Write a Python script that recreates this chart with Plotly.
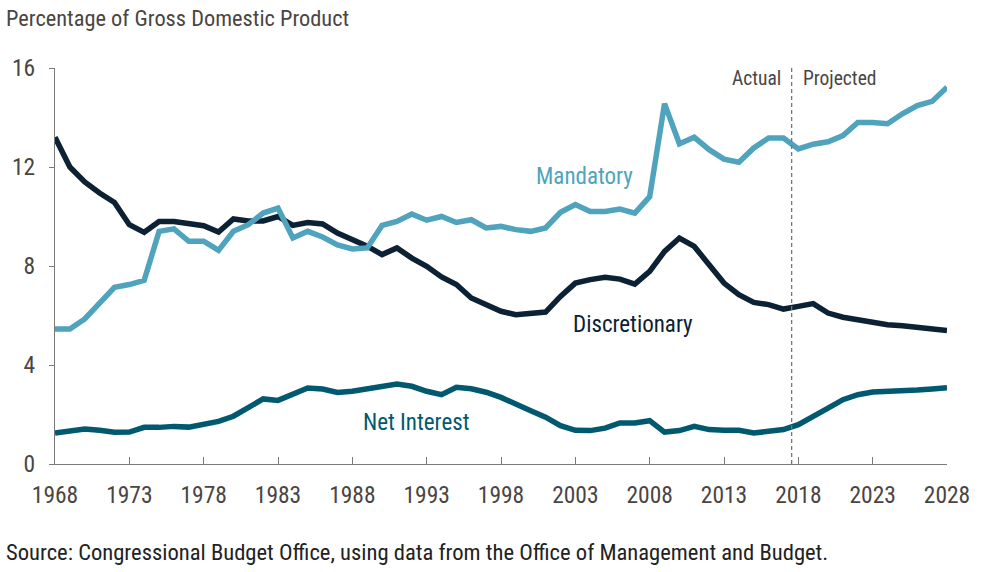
import plotly.graph_objects as go

years = list(range(1968, 2029))

mandatory = [5.45, 5.45, 5.86, 6.5, 7.14, 7.25, 7.42, 9.4, 9.5, 9.0,
             9.0, 8.63, 9.4, 9.67, 10.14, 10.34, 9.13, 9.4, 9.17, 8.85,
             8.69, 8.73, 9.64, 9.8, 10.1, 9.85, 10.0, 9.76, 9.87, 9.54,
             9.6, 9.47, 9.4, 9.54, 10.17, 10.48, 10.2, 10.2, 10.3, 10.14,
             10.8, 14.56, 12.94, 13.2, 12.7, 12.32, 12.19, 12.77, 13.17, 13.17,
             12.73, 12.92, 13.02, 13.27, 13.8, 13.8, 13.75, 14.15, 14.48, 14.65,
             15.22]

discretionary = [13.2, 12.0, 11.4, 10.95, 10.57, 9.67, 9.36, 9.8, 9.8, 9.74,
                 9.63, 9.37, 9.9, 9.82, 9.82, 10.0, 9.64, 9.76, 9.7, 9.33,
                 9.06, 8.8, 8.46, 8.73, 8.32, 7.99, 7.56, 7.25, 6.71, 6.44,
                 6.17, 6.03, 6.06, 6.14, 6.77, 7.31, 7.45, 7.54, 7.47, 7.27,
                 7.78, 8.59, 9.13, 8.79, 8.05, 7.31, 6.84, 6.53, 6.44, 6.26,
                 6.37, 6.48, 6.10, 5.93, 5.83, 5.72, 5.63, 5.59, 5.52, 5.45,
                 5.39]

net_interest = [1.25, 1.32, 1.41, 1.36, 1.28, 1.29, 1.48, 1.48, 1.52, 1.49,
                1.59, 1.72, 1.93, 2.26, 2.63, 2.57, 2.83, 3.07, 3.03, 2.89,
                2.94, 3.03, 3.14, 3.23, 3.14, 2.94, 2.8, 3.1, 3.04, 2.9,
                2.69, 2.4, 2.15, 1.89, 1.55, 1.36, 1.35, 1.45, 1.66, 1.66,
                1.75, 1.29, 1.35, 1.52, 1.39, 1.36, 1.36, 1.25, 1.32, 1.39,
                1.59, 1.9, 2.26, 2.6, 2.8, 2.91, 2.92, 2.95, 2.99, 3.03,
                3.08]

x_ticks = list(range(1968, 2029, 5))
y_ticks = [0, 4, 8, 12, 16]
split_year = 2017.55

C_MAND = "#4fa3bd"
C_DISC = "#0c2133"
C_NET = "#00596f"
C_TEXT = "#4a4543"
FONT = "Liberation Sans Narrow, Roboto Condensed, Arial Narrow, Roboto, sans-serif"

fig = go.Figure()
for name, vals, col in [("Net Interest", net_interest, C_NET),
                        ("Discretionary", discretionary, C_DISC),
                        ("Mandatory", mandatory, C_MAND)]:
    fig.add_trace(go.Scatter(x=years, y=vals, mode="lines", name=name,
                             line=dict(color=col, width=5.5), cliponaxis=False,
                             showlegend=False))

fig.add_shape(type="line", x0=split_year, x1=split_year, y0=0, y1=16,
              xref="x", yref="y", line=dict(color="#777777", width=1.3, dash="4px,3px"))

annots = [
    dict(x=2003.6, y=11.6, text="Mandatory", color=C_MAND, xanchor="center", size=23),
    dict(x=2006.9, y=5.65, text="Discretionary", color=C_DISC, xanchor="center", size=23),
    dict(x=1992.3, y=1.68, text="Net Interest", color=C_NET, xanchor="center", size=23),
    dict(x=split_year - 0.6, y=15.57, text="Actual", color=C_TEXT, xanchor="right", size=19.5),
    dict(x=split_year + 0.6, y=15.57, text="Projected", color=C_TEXT, xanchor="left", size=19.5),
]
for a in annots:
    fig.add_annotation(x=a["x"], y=a["y"], text=a["text"], showarrow=False,
                       xanchor=a["xanchor"], yanchor="middle",
                       font=dict(family=FONT, size=a["size"], color=a["color"]))

fig.add_annotation(x=-0.0575, y=1.126, xref="paper", yref="paper",
                   text="Percentage of Gross Domestic Product",
                   showarrow=False, xanchor="left", yanchor="middle",
                   font=dict(family=FONT, size=22.4, color=C_TEXT))
fig.add_annotation(x=-0.0575, y=-0.2247, xref="paper", yref="paper",
                   text="Source: Congressional Budget Office, using data from the Office of Management and Budget.",
                   showarrow=False, xanchor="left", yanchor="middle",
                   font=dict(family=FONT, size=22.6, color="#222222"))

fig.update_layout(
    width=982, height=572,
    margin=dict(l=53, r=35, t=68, b=108),
    paper_bgcolor="white", plot_bgcolor="white",
    font=dict(family=FONT, size=22, color=C_TEXT),
    xaxis=dict(range=[1968, 2028], tickvals=x_ticks, ticktext=[str(v) for v in x_ticks],
               showgrid=False, zeroline=False, showline=True, linecolor="#7a7a7a", linewidth=1.3,
               ticks="inside", ticklen=7, tickcolor="#7a7a7a", tickwidth=1.3,
               ticklabelstandoff=10,
               tickfont=dict(family=FONT, size=23.5, color=C_TEXT)),
    yaxis=dict(range=[0, 16], tickvals=y_ticks, showgrid=False, zeroline=False,
               showline=True, linecolor="#7a7a7a", linewidth=1.3,
               ticks="outside", ticklen=5, tickcolor="#7a7a7a", tickwidth=1.3,
               ticklabelstandoff=9,
               tickfont=dict(family=FONT, size=23.5, color=C_TEXT)),
)

fig.write_html("out.html", config={"displayModeBar": False},
               post_script="document.body.style.margin='0';document.body.style.padding='0';")
